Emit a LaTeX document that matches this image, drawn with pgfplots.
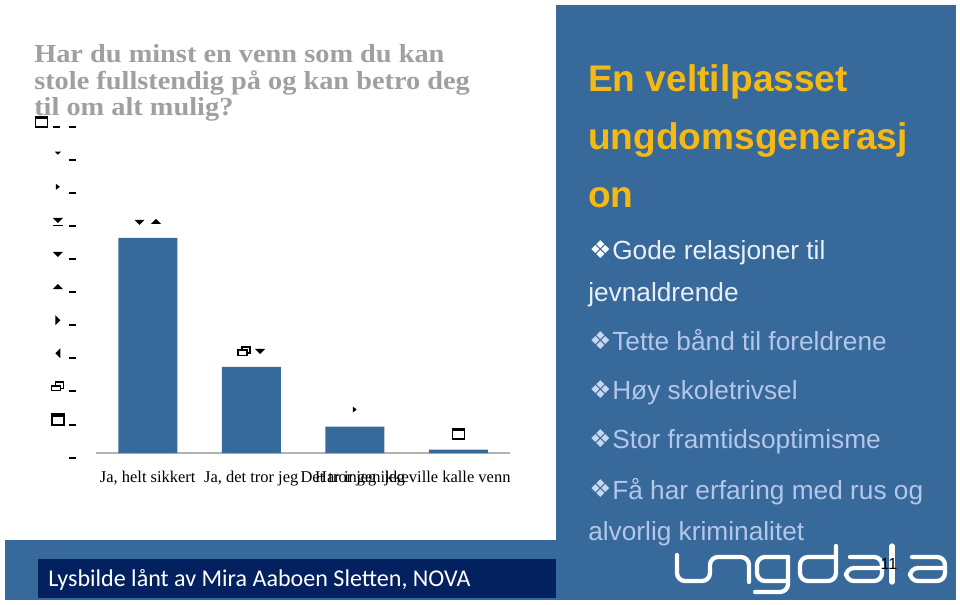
\documentclass[border=0pt]{standalone}
\usepackage{fontspec}
\setmainfont{Liberation Serif}
\newfontfamily\arialf{Liberation Sans}
\newfontfamily\calibrif{Carlito}
\newfontfamily\symf{DejaVu Sans}
\newfontfamily\titlef[FakeStretch=1.09]{Liberation Serif Bold}
\usepackage{pgfplots}
\pgfplotsset{compat=1.18}

\definecolor{panel}{HTML}{37699A}
\definecolor{navy}{HTML}{03205F}
\definecolor{gold}{HTML}{F5B915}
\definecolor{bodyblue}{HTML}{B4C6EA}
\definecolor{bodylight}{HTML}{E8EFF8}
\definecolor{bulletblue}{HTML}{C8D7F0}
\definecolor{titlegrey}{HTML}{A0A0A0}

% the chart's numbers came out in a symbol font, so they are drawn as little icons
\protected\def\ico#1{\tikz[x=.75pt,y=.75pt,baseline=0pt]{#1}}
\protected\def\tridown{\ico{\fill[black] (-5,8)--(5,8)--(0,3)--cycle;}}
\protected\def\triup{\ico{\fill[black] (-5,4)--(5,4)--(0,9)--cycle;}}
\protected\def\trileft{\ico{\fill[black] (2.5,1)--(2.5,11)--(-2.5,6)--cycle;}}
\protected\def\triright{\ico{\fill[black] (-2.5,1)--(-2.5,11)--(2.5,6)--cycle;}}
\protected\def\smalldown{\ico{\fill[black] (-3,9)--(3,9)--(0,6)--cycle;}}
\protected\def\smallright{\ico{\fill[black] (-2,4)--(-2,10)--(2,7)--cycle;}}
\protected\def\tribar{\ico{\fill[black] (-5,9)--(5,9)--(0,4)--cycle; \fill[black] (-5,.5) rectangle (5,2);}}
\protected\def\winbox{\ico{\draw[black, fill=none, line width=1pt] (-6,0.6) rectangle (6,11.4); \fill[black] (-6,9) rectangle (6,12);}}
\protected\def\winrestore{\ico{
  \draw[black, fill=none, line width=.9pt] (-2,7) -- (-2,10.5) -- (6,10.5) -- (6,4) -- (3,4);
  \fill[black] (-2,9) rectangle (6,11);
  \draw[black, fill=none, line width=.9pt] (-6,1.5) rectangle (3,7);
  \fill[black] (-6,5.5) rectangle (3,7.5);}}
\protected\def\dash{\rule{5.25pt}{1.5pt}}
\protected\def\ylab#1{\makebox[16.5pt][c]{#1}\dash}

\begin{document}
\begin{tikzpicture}
\path[use as bounding box, fill=white] (0,0) rectangle (720pt,-453.75pt);

\begin{axis}[
  at={(72pt,-339.75pt)},
  anchor=south west,
  scale only axis,
  width=310.5pt,
  height=248.25pt,
  xmin=-0.5, xmax=3.5,
  ymin=0, ymax=100,
  axis lines=left,
  x axis line style={-, draw=black!30, line width=.8pt},
  y axis line style={draw=none},
  tick style={draw=none},
  ytick={0,10,...,100},
  yticklabels={
    \dash,
    \ylab{\winbox},
    \ylab{\winrestore},
    \ylab{\trileft},
    \ylab{\triright},
    \ylab{\triup},
    \ylab{\tridown},
    \ylab{\tribar},
    \ylab{\smallright},
    \ylab{\smalldown},
    \winbox\hspace{3.75pt}\dash\hspace{6.75pt}\dash
  },
  yticklabel style={anchor=base east, inner sep=0pt, xshift=-12.75pt, yshift=-4.2pt},
  xtick={0,1,2,3},
  xticklabels={{Ja, helt sikkert}, {Ja, det tror jeg}, {Det tror jeg ikke}, {Har ingen jeg ville kalle venner\rule{58.5pt}{0pt}}},
  xticklabel style={anchor=base, font=\fontsize{12.35}{14}\selectfont, yshift=-18pt},
  ybar,
  bar width=44.25pt,
  point meta=explicit symbolic,
  nodes near coords,
  nodes near coords style={anchor=base, inner sep=0pt, yshift=7.5pt},
  clip=false,
]
\addplot[fill=panel, draw=none] coordinates {
  (0,65) [{\tridown\hspace{5pt}\triup}]
  (1,26) [{\winrestore\hspace{3.5pt}\tridown}]
  (2,8)  [{\smallright}]
  (3,1)  [{\winbox}]
};
\end{axis}

\begin{scope}[x=.75pt,y=-.75pt]
% hides the end of the last category name, which runs past the plot
\fill[white] (510,462) rectangle (556,500);
\fill[panel] (556,5) rectangle (956,600);
\fill[panel] (5,540) rectangle (556,600);
\fill[navy] (38,559) rectangle (556,598);

\node[anchor=base west, inner sep=0pt, text=white, font=\calibrif\fontsize{18.05}{20}\selectfont] at (48,586) {Lysbilde lånt av Mira Aaboen Sletten, NOVA};

\begin{scope}[every node/.style={anchor=base west, inner sep=0pt, text=titlegrey, font=\titlef\fontsize{19.5}{22}\selectfont}]
\node at (34,63) {Har du minst en venn som du kan};
\node at (34,90) {stole fullstendig på og kan betro deg};
\node at (34,116) {til om alt mulig?};
\end{scope}

\begin{scope}[every node/.style={anchor=base west, inner sep=0pt, text=gold, font=\arialf\bfseries\fontsize{27.8}{32}\selectfont}]
\node at (588,92) {En veltilpasset};
\node at (588,150) {ungdomsgenerasj};
\node at (588,208) {on};
\end{scope}

\begin{scope}[every node/.style={anchor=base west, inner sep=0pt, text=bodyblue, font=\arialf\fontsize{19.7}{23}\selectfont}]
\node[text=bodylight] at (612,260) {Gode relasjoner til};
\node[text=bodylight] at (588,302) {jevnaldrende};
\node at (612,351) {Tette bånd til foreldrene};
\node at (612,400) {Høy skoletrivsel};
\node at (612,449) {Stor framtidsoptimisme};
\node at (612,499) {Få har erfaring med rus og};
\node at (588,541) {alvorlig kriminalitet};
\end{scope}

\begin{scope}[every node/.style={anchor=base west, inner sep=0pt, text=bulletblue, font=\symf\fontsize{18.5}{20}\selectfont}]
\node[text=white] at (589,259) {❖};
\node at (589,350) {❖};
\node at (589,399) {❖};
\node at (589,448) {❖};
\node at (589,498) {❖};
\end{scope}

% logo
\begin{scope}[white, line width=3.2pt, line cap=round, rounded corners=6pt]
\draw (677,555) -- (677,581) -- (710,581) -- (710,557) -- (749,557) -- (749,582);
\draw (788,557) -- (757,557) -- (757,581) -- (788,581);
\draw (788,557) -- (788,592) -- (755,592);
\draw (836,546) -- (836,581) -- (800,581) -- (800,557) -- (836,557);
\draw (850,557) -- (882,557) -- (882,581) -- (846,581) -- (846,568) -- (882,568);
\draw[line width=4pt, rounded corners=0pt] (892,546) -- (892,582);
\draw (912,557) -- (945,557) -- (945,581) -- (910,581) -- (910,568) -- (945,568);
\end{scope}
\node[anchor=base, inner sep=0pt, text=black, font=\arialf\fontsize{12}{14}\selectfont] at (889,569) {11};
\end{scope}
\end{tikzpicture}
\end{document}
